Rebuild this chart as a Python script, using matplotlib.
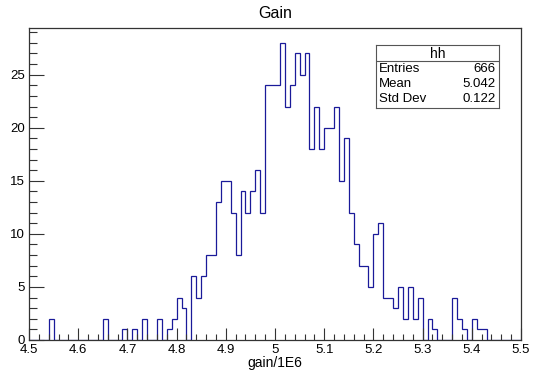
import numpy as np
import matplotlib
matplotlib.use('Agg')
import matplotlib.pyplot as plt
from matplotlib.ticker import MultipleLocator, FixedLocator, FixedFormatter

plt.rcParams['font.family'] = ['Liberation Sans', 'DejaVu Sans']

# histogram "hh": 100 bins from 4.5 to 5.5
x_min = 4.5
x_max = 5.5
n_bins = 100
counts = [0, 0, 0, 0, 2, 0, 0, 0, 0, 0,
          0, 0, 0, 0, 0, 2, 0, 0, 0, 1,
          0, 1, 0, 2, 0, 0, 2, 0, 1, 2,
          4, 3, 0, 6, 4, 6, 8, 8, 13, 15,
          15, 12, 8, 14, 12, 14, 16, 12, 24, 24,
          24, 28, 22, 24, 27, 25, 27, 18, 22, 18,
          20, 20, 22, 15, 19, 12, 9, 7, 7, 5,
          10, 11, 4, 4, 3, 5, 2, 5, 2, 4,
          0, 2, 1, 0, 0, 0, 4, 2, 1, 0,
          2, 1, 1, 0, 0, 0, 0, 0, 0, 0]
x_ticks = [4.5, 4.6, 4.7, 4.8, 4.9, 5.0, 5.1, 5.2, 5.3, 5.4, 5.5]
x_tick_labels = ['4.5', '4.6', '4.7', '4.8', '4.9', '5', '5.1', '5.2', '5.3', '5.4', '5.5']
stats_names = ['Entries', 'Mean', 'Std Dev']
stats_values = ['666', '5.042', '0.122']

edges = np.linspace(x_min, x_max, n_bins + 1)

W, H = 533, 376
fig = plt.figure(figsize=(W / 100, H / 100), dpi=100)
fig.patch.set_facecolor('white')

# frame in pixels
left, right, top, bottom = 29, 521, 28, 340
ax = fig.add_axes([left / W, 1 - bottom / H, (right - left) / W, (bottom - top) / H])
ax.stairs(counts, edges, color='#1a1a99', lw=0.9, baseline=0)
ax.set_xlim(x_min, x_max)
ax.set_ylim(0, max(counts) * 1.05)

ax.xaxis.set_major_locator(FixedLocator(x_ticks))
ax.xaxis.set_major_formatter(FixedFormatter(x_tick_labels))
ax.xaxis.set_minor_locator(MultipleLocator(0.02))
ax.yaxis.set_major_locator(MultipleLocator(5))
ax.yaxis.set_minor_locator(MultipleLocator(1))
ax.tick_params(axis='both', which='both', direction='in', top=False, right=False,
               labelsize=9.5, color='#333333', width=0.8)
ax.tick_params(axis='x', which='major', length=9, pad=3)
ax.tick_params(axis='x', which='minor', length=4.5)
ax.tick_params(axis='y', which='major', length=11, pad=3)
ax.tick_params(axis='y', which='minor', length=6)
for s in ax.spines.values():
    s.set_linewidth(0.9)
    s.set_color('#333333')

ax.set_xlabel('gain/1E6', fontsize=10, labelpad=0)
fig.text(275 / W, 1 - 13 / H, 'Gain', ha='center', va='center', fontsize=11.5)

# stats box
bx0, bx1, by0, by1, bsep = 376, 499, 45, 108, 61
box = fig.add_axes([bx0 / W, 1 - by1 / H, (bx1 - bx0) / W, (by1 - by0) / H])
box.set_xlim(bx0, bx1)
box.set_ylim(by1, by0)
box.set_xticks([])
box.set_yticks([])
for s in box.spines.values():
    s.set_linewidth(0.8)
    s.set_color('#555555')
box.axhline(bsep, color='#555555', lw=0.8)
box.text((bx0 + bx1) / 2, (by0 + bsep) / 2 + 0.5, 'hh', ha='center', va='center', fontsize=10)
row_y = [69, 84, 98.5]
for name, val, y in zip(stats_names, stats_values, row_y):
    box.text(bx0 + 3, y, name, ha='left', va='center', fontsize=9.5)
    box.text(bx1 - 3, y, val, ha='right', va='center', fontsize=9.5)

plt.savefig('out.png', dpi=100)
